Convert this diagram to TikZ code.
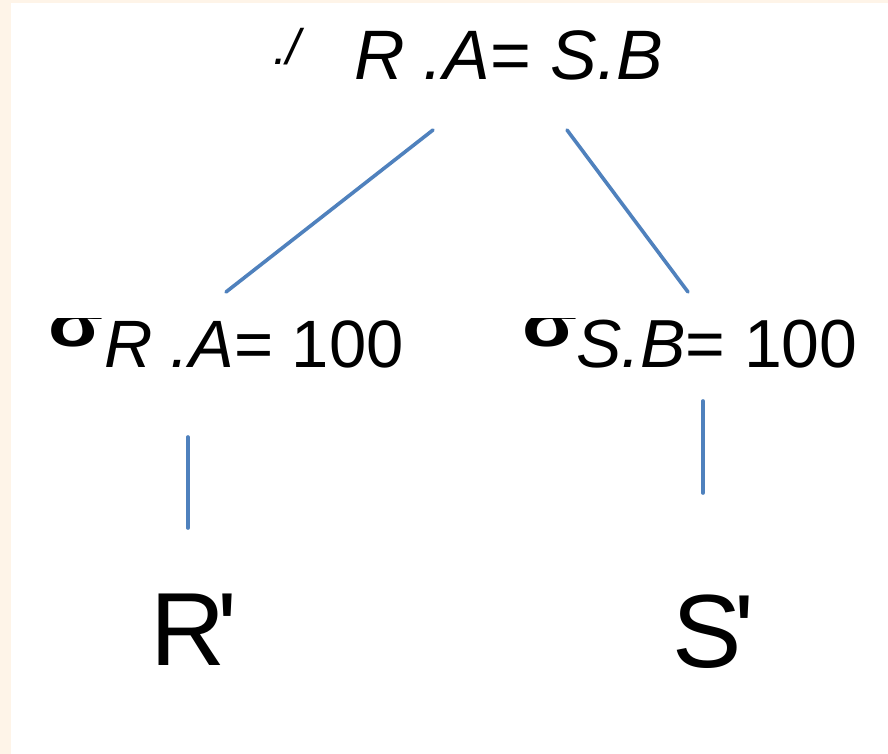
\documentclass[tikz,border=0pt]{standalone}
\usepackage{fontspec}
\setmainfont{Liberation Sans}[Ligatures=TeXOff]
\definecolor{cream}{HTML}{FEF4E8}
\definecolor{linkblue}{HTML}{4F81BD}
\begin{document}
\begin{tikzpicture}[x=1pt,y=-1pt,
  lbl/.style={inner sep=0pt,outer sep=0pt,anchor=base west,text=black},
  sig/.style={lbl,font=\fontsize{62}{66}\selectfont\bfseries,xscale=1.3},
  link/.style={draw=linkblue,line width=3.6pt,line cap=round}]
\useasboundingbox (0,0) rectangle (888,754);
\fill[cream] (0,0) rectangle (888,754);
\fill[white] (11,3) rectangle (888,754);
% top join
\node[lbl,font=\fontsize{50}{54}\selectfont\itshape] (bow) at (273,65) {./};
\node[lbl,font=\fontsize{70}{74}\selectfont] (join) at (354,80) {\itshape R .A\upshape= \itshape S.B};
% selections
\begin{scope}
\clip (40,318) rectangle (120,360);
\node[sig] (sigL) at (48,346) {σ};
\end{scope}
\node[lbl,font=\fontsize{67}{70}\selectfont] (selL) at (104,367) {\itshape R .A\upshape= 100};
\begin{scope}
\clip (515,318) rectangle (576,360);
\node[sig] (sigR) at (522,346) {σ};
\end{scope}
\node[lbl,font=\fontsize{68}{70}\selectfont] (selR) at (576,367) {\itshape S.B\upshape= 100};
% relations
\node[lbl,font=\fontsize{104}{110}\selectfont] (R) at (150,665) {R\kern-0.07em'};
\node[lbl,font=\fontsize{104}{110}\selectfont] (S) at (672,667) {S\kern-0.07em'};
% connector ends
\coordinate (a1) at (433,130);
\coordinate (a2) at (226,292);
\coordinate (b1) at (567,130);
\coordinate (b2) at (688,292);
\coordinate (c1) at (188,437);
\coordinate (c2) at (188,528);
\coordinate (d1) at (703,401);
\coordinate (d2) at (703,493);
\draw[link] (a1) -- (a2);
\draw[link] (b1) -- (b2);
\draw[link] (c1) -- (c2);
\draw[link] (d1) -- (d2);
\end{tikzpicture}
\end{document}
